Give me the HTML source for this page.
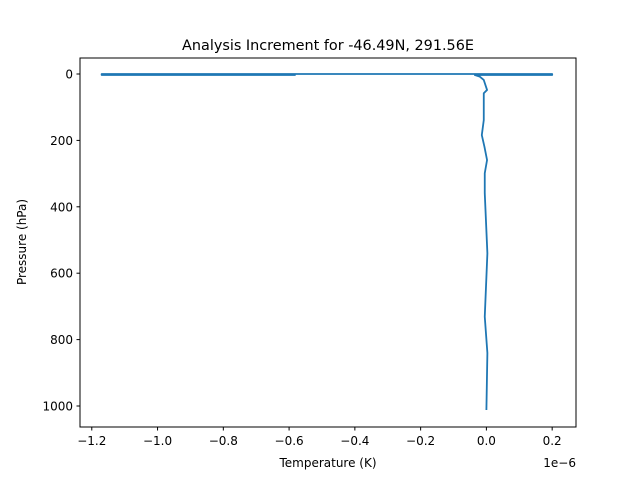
<!DOCTYPE html>
<html><head><meta charset="utf-8"><style>
body{margin:0;background:#fff}
svg text{font-family:"DejaVu Sans","Liberation Sans",sans-serif;fill:#000}
</style></head><body>
<svg id="chart" width="640" height="480">
<rect x="0" y="0" width="640" height="480" fill="#fff"/>
<text x="328" y="50" font-size="14.4" text-anchor="middle">Analysis Increment for -46.49N, 291.56E</text>
<g id="plot"></g>
<rect x="80" y="58" width="496" height="369" fill="none" stroke="#000" stroke-width="1"/>
<text x="328" y="467" font-size="12" text-anchor="middle">Temperature (K)</text>
<text x="576" y="467" font-size="12" text-anchor="end">1e−6</text>
<text transform="translate(26,242) rotate(-90)" font-size="12" text-anchor="middle">Pressure (hPa)</text>
</svg>
<script>
const xTicks=[-1.2,-1.0,-0.8,-0.6,-0.4,-0.2,0.0,0.2];
const xTickLabels=["−1.2","−1.0","−0.8","−0.6","−0.4","−0.2","0.0","0.2"];
const yTicks=[0,200,400,600,800,1000];
const yTickLabels=["0","200","400","600","800","1000"];
const pressure=[1012,840,731,540,359,299,259,219,184,139,58,48,18,8,3,3,0,0,3,3];
const temperature=[0.0,0.003,-0.005,0.003,-0.005,-0.005,0.002,-0.006,-0.014,-0.008,-0.008,0.002,-0.008,-0.02,-0.035,0.2,0.2,-1.17,-1.17,-0.58];
const sx=v=>486.4+v*328.85;
const sy=p=>74+p*0.332;
const NS="http://www.w3.org/2000/svg";
const svg=document.getElementById('chart');
const g=document.getElementById('plot');
xTicks.forEach((t,i)=>{
 const l=document.createElementNS(NS,'line');
 l.setAttribute('x1',sx(t));l.setAttribute('x2',sx(t));l.setAttribute('y1',427);l.setAttribute('y2',430.5);l.setAttribute('stroke','#000');
 
 
 svg.appendChild(l);
 const tx=document.createElementNS(NS,'text');
 tx.setAttribute('x',sx(t));tx.setAttribute('y',445);tx.setAttribute('font-size','12');tx.setAttribute('text-anchor','middle');
 tx.textContent=xTickLabels[i];
 
 
 svg.appendChild(tx);
});
yTicks.forEach((t,i)=>{
 const l=document.createElementNS(NS,'line');
 l.setAttribute('x1',76.5);l.setAttribute('x2',80);l.setAttribute('y1',sy(t));l.setAttribute('y2',sy(t));l.setAttribute('stroke','#000');
 
 
 svg.appendChild(l);
 const tx=document.createElementNS(NS,'text');
 tx.setAttribute('x',73);tx.setAttribute('y',sy(t)+4.5);tx.setAttribute('font-size','12');tx.setAttribute('text-anchor','end');
 tx.textContent=yTickLabels[i];
 
 
 svg.appendChild(tx);
});
const pl=document.createElementNS(NS,'polyline');
pl.setAttribute('points',pressure.map((p,i)=>sx(temperature[i])+','+sy(p)).join(' '));
pl.setAttribute('fill','none');pl.setAttribute('stroke','#1f77b4');pl.setAttribute('stroke-width','1.8');pl.setAttribute('stroke-linejoin','round');


g.appendChild(pl);
</script>
</body></html>
